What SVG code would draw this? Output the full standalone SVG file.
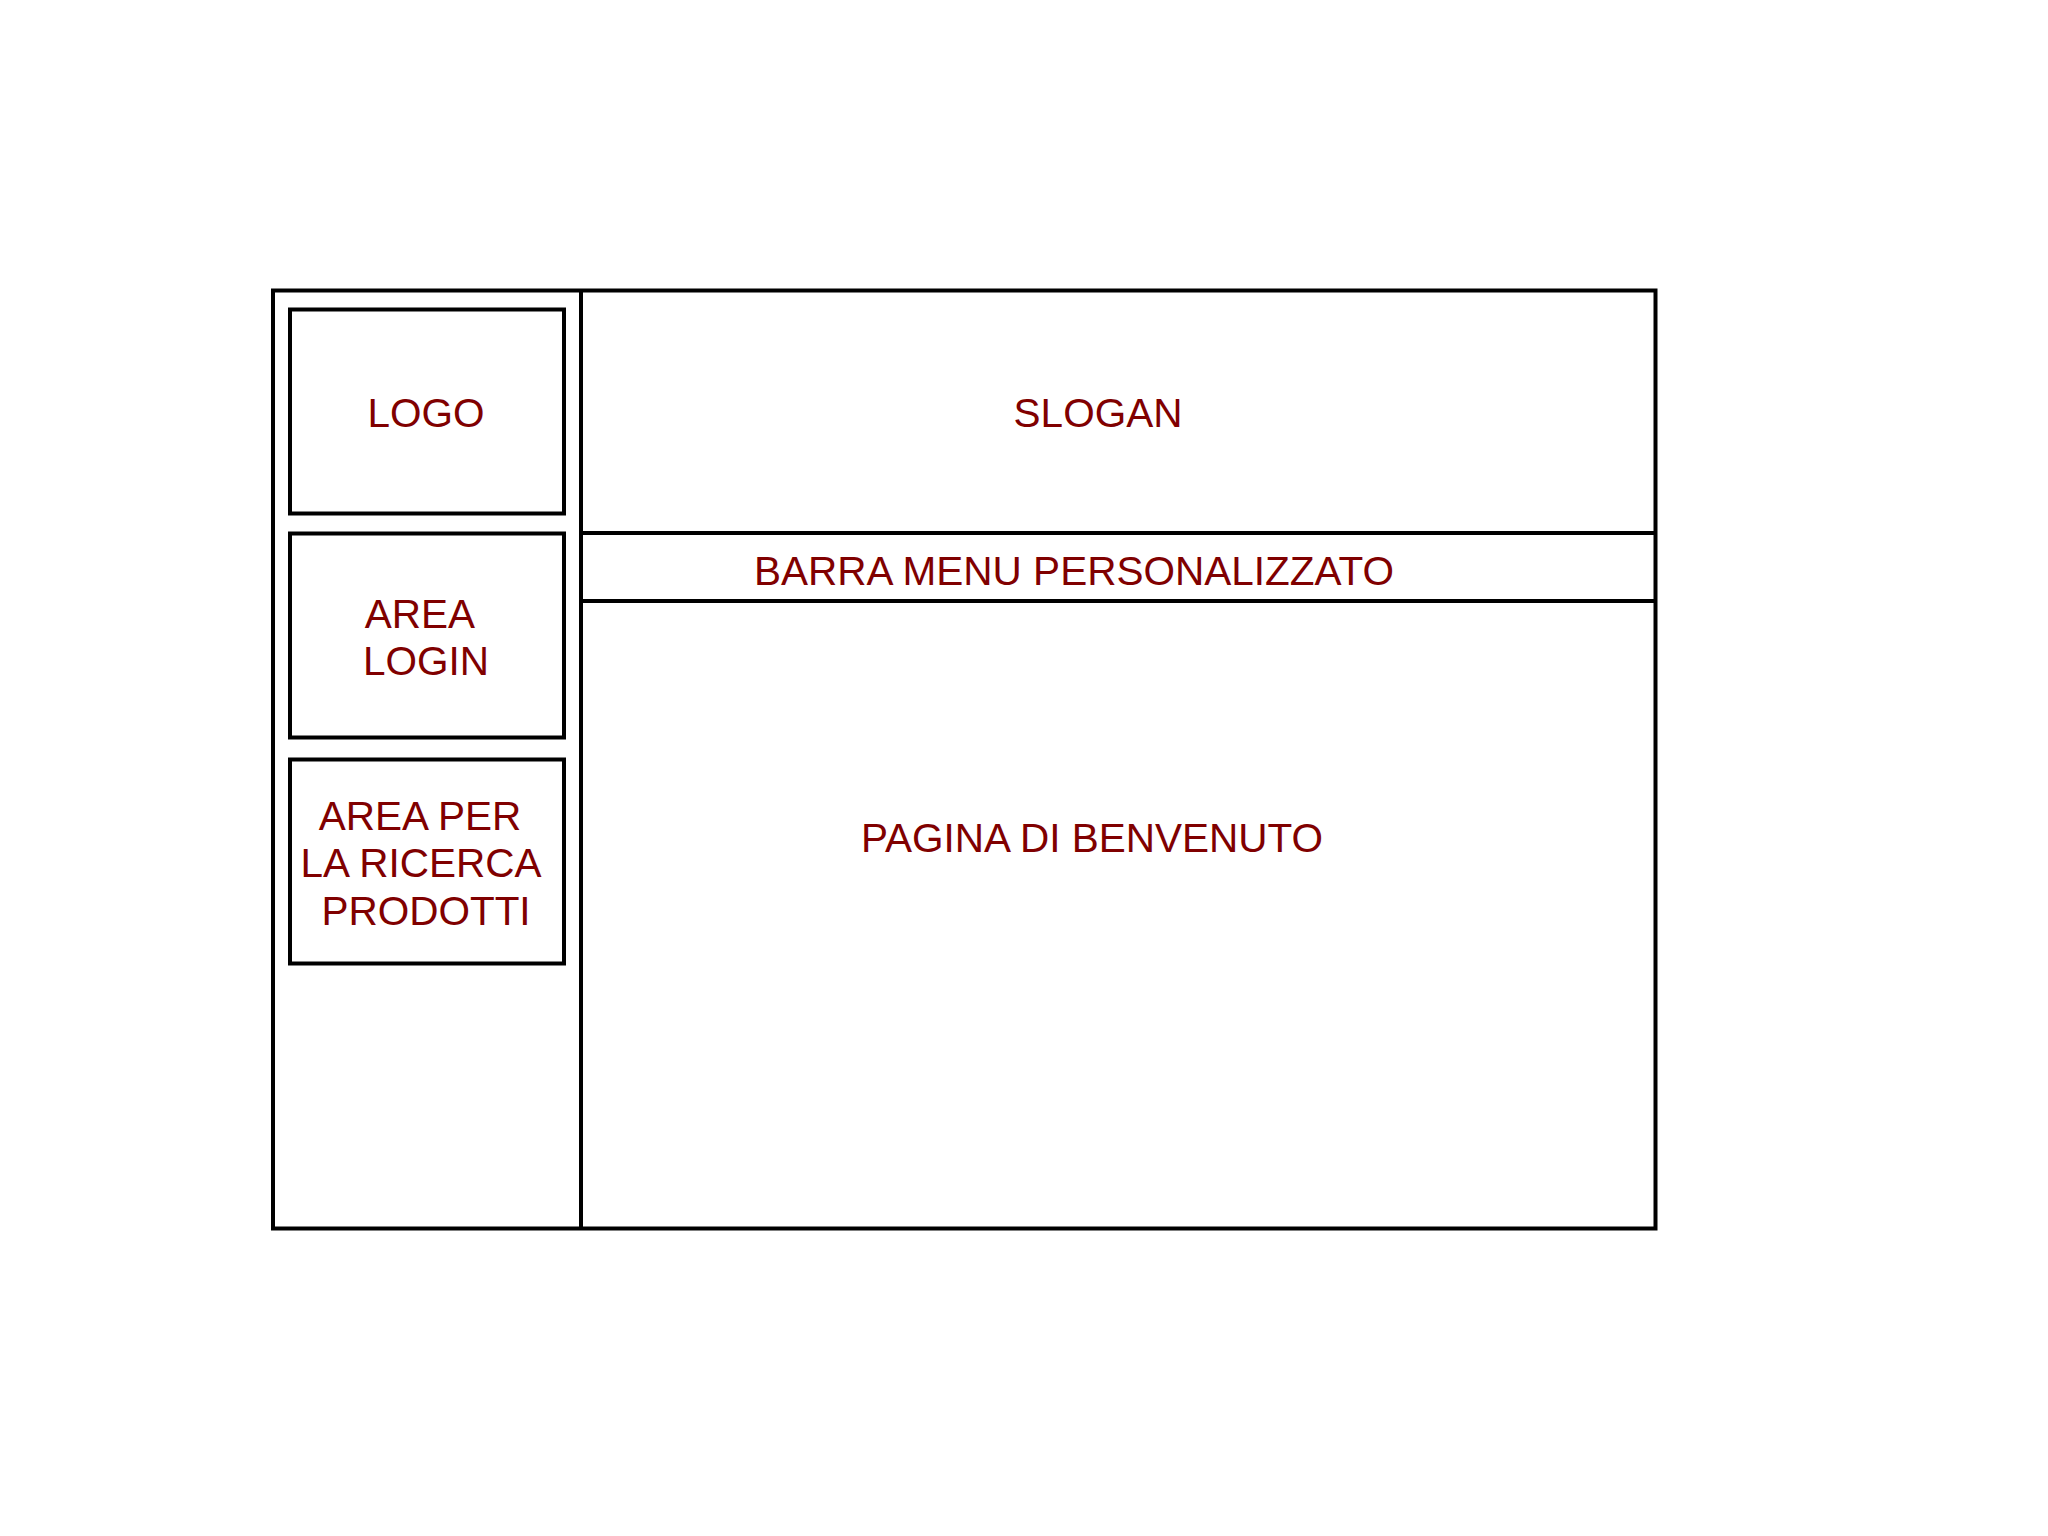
<svg xmlns="http://www.w3.org/2000/svg" width="2048" height="1536" viewBox="0 0 2048 1536">
<style>
.box{fill:none;stroke:#000;stroke-width:4}
.ln{stroke:#000;stroke-width:4}
.t{font-family:"Liberation Sans",Arial,sans-serif;font-size:40.5px;fill:#800000;text-anchor:middle}
</style>
<rect width="2048" height="1536" fill="#fff"/>
<g id="frame">
<rect class="box" x="273" y="290.5" width="1382.5" height="938"/>
</g>
<g id="connectors">
<line class="ln" x1="581" y1="290.5" x2="581" y2="1228.5"/>
<line class="ln" x1="581" y1="533" x2="1655.5" y2="533"/>
<line class="ln" x1="581" y1="601" x2="1655.5" y2="601"/>
</g>
<g id="logo">
<rect class="box" x="290" y="309.5" width="274" height="204"/>
<text class="t" x="426" y="427">LOGO</text>
</g>
<g id="login">
<rect class="box" x="290" y="533.5" width="274" height="204"/>
<text class="t" x="420" y="628">AREA</text>
<text class="t" x="426" y="675">LOGIN</text>
</g>
<g id="ricerca">
<rect class="box" x="290" y="759.5" width="274" height="204"/>
<text class="t" x="420" y="830">AREA PER</text>
<text class="t" x="421" y="877">LA RICERCA</text>
<text class="t" x="426" y="925">PRODOTTI</text>
</g>
<g id="slogan">
<text class="t" x="1098" y="427">SLOGAN</text>
</g>
<g id="menu">
<text class="t" x="1074" y="585">BARRA MENU PERSONALIZZATO</text>
</g>
<g id="benvenuto">
<text class="t" x="1092" y="852">PAGINA DI BENVENUTO</text>
</g>
</svg>
